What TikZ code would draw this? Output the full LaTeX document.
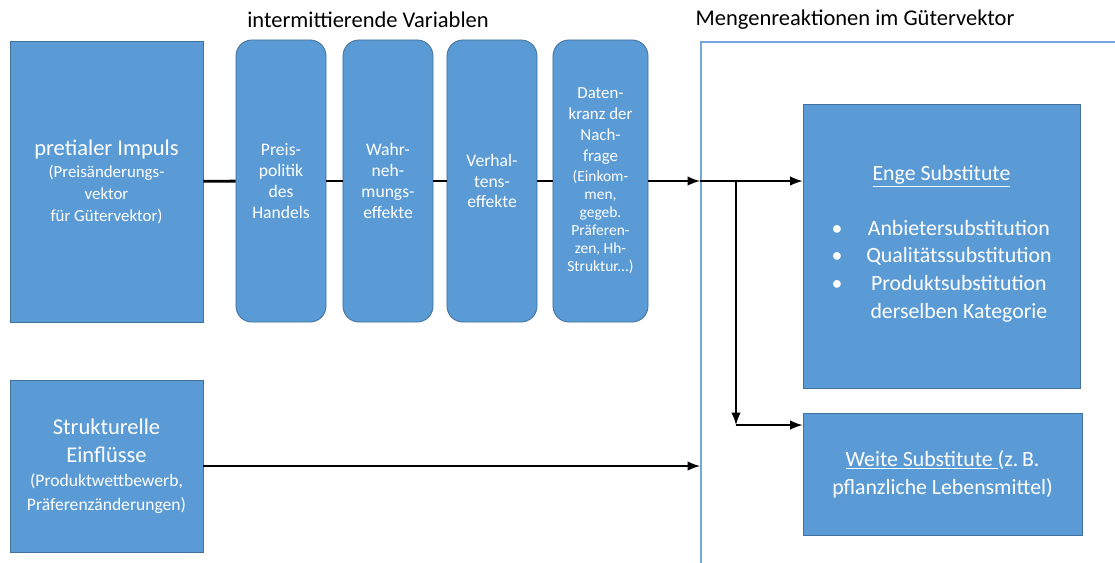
\documentclass[tikz,border=0pt]{standalone}
\usepackage{fontspec}
\setmainfont{Carlito}
\usetikzlibrary{shapes,arrows}
\definecolor{kasten}{HTML}{5B9BD5}
\definecolor{kastenrand}{HTML}{41719C}
\definecolor{rahmen}{HTML}{76A5DA}
\newcommand{\grossschrift}{\fontsize{16}{19}\selectfont}
\newcommand{\datengross}{\fontsize{12}{14}\selectfont}
\tikzstyle{block} = [draw=kastenrand, fill=kasten, rectangle, text=white, align=center, line width=0.6pt, inner sep=2pt, font=\fontsize{12}{15.6}\selectfont]
\tikzstyle{zwischen} = [block, rounded corners=0.4cm, minimum width=2.25cm, minimum height=7.05cm, font=\fontsize{12.5}{14.8}\selectfont]
\tikzstyle{ergebnis} = [block, font=\fontsize{15.5}{19.7}\selectfont]
\tikzstyle{titel} = [font=\fontsize{16}{19}\selectfont]
\tikzstyle{verbindung} = [draw, line width=2pt]
\tikzstyle{pfeil} = [verbindung, ->]

\begin{document}
\begin{tikzpicture}[x=0.025cm, y=-0.025cm, >=latex]
	\useasboundingbox (0,0) rectangle (1115,562);

	\node [titel] (zwtitel) at (368,20) {intermittierende Variablen};
	\node [titel] (retitel) at (855,20) {Mengenreaktionen im Gütervektor};

	\node [draw=rahmen, line width=1.1pt, rectangle, anchor=north west, minimum width=11cm, minimum height=13.5cm] (reakt) at (700,41) {};

	\node [block, minimum width=4.825cm, minimum height=7.025cm] (impuls) at (106.5,181.5) {{\grossschrift pretialer Impuls}\\ (Preisänderungs-\\ vektor\\ für Gütervektor)};
	\node [zwischen] (preis) at (281,181) {Preis-\\politik\\des\\Handels};
	\node [zwischen] (wahr) at (388,181) {Wahr-\\neh-\\mungs-\\effekte};
	\node [zwischen] (verhal) at (492,181) {Verhal-\\tens-\\effekte};
	\node [zwischen, minimum width=2.375cm, font=\fontsize{11}{12.8}\selectfont] (daten) at (600.5,181) {{\datengross Daten-}\\[2.1pt] {\datengross kranz der}\\[2.1pt] {\datengross Nach-}\\[2.1pt] {\datengross frage}\\[1.4pt] (Einkom-\\ men,\\ gegeb.\\ Präferen-\\ zen, Hh-\\ Struktur...)};
	\node [block, minimum width=4.825cm, minimum height=4.3cm, font=\fontsize{12.5}{17}\selectfont] (struktur) at (106.5,466) {{\grossschrift Strukturelle}\\[2.9pt] {\grossschrift Einflüsse}\\ (Produktwettbewerb,\\ Präferenzänderungen)};

	\node [ergebnis, minimum width=6.925cm, minimum height=7.1cm] (enge) at (941.5,246) {\underline{Enge Substitute}\\[19.5pt]
		\begin{tabular}{@{}c@{\hspace{17pt}}c@{}}
		\textbullet & Anbietersubstitution\\
		\textbullet & Qualitätssubstitution\\
		\textbullet & Produktsubstitution\\
		 & derselben Kategorie
		\end{tabular}};
	\node [ergebnis, minimum width=6.975cm, minimum height=3.05cm] (weite) at (942.5,474) {\underline{Weite Substitute }(z.\,B.\\pflanzliche Lebensmittel)};

	\coordinate (gabel) at (736,182);
	\coordinate (ecke) at (736,425);

	\draw [verbindung] (impuls) -- (preis);
	\draw [verbindung] (preis) -- (wahr);
	\draw [verbindung] (wahr) -- (verhal);
	\draw [verbindung] (verhal) -- (daten);
	\draw [pfeil] (daten.east) -- (daten.east -| reakt.west);
	\draw [pfeil] (daten.east -| reakt.west) -- (enge.west |- daten.east);
	\draw [pfeil] (gabel) -- (ecke);
	\draw [pfeil] (ecke) -- (weite.west |- ecke);
	\draw [pfeil] (struktur) -- (struktur -| reakt.west);
\end{tikzpicture}
\end{document}
